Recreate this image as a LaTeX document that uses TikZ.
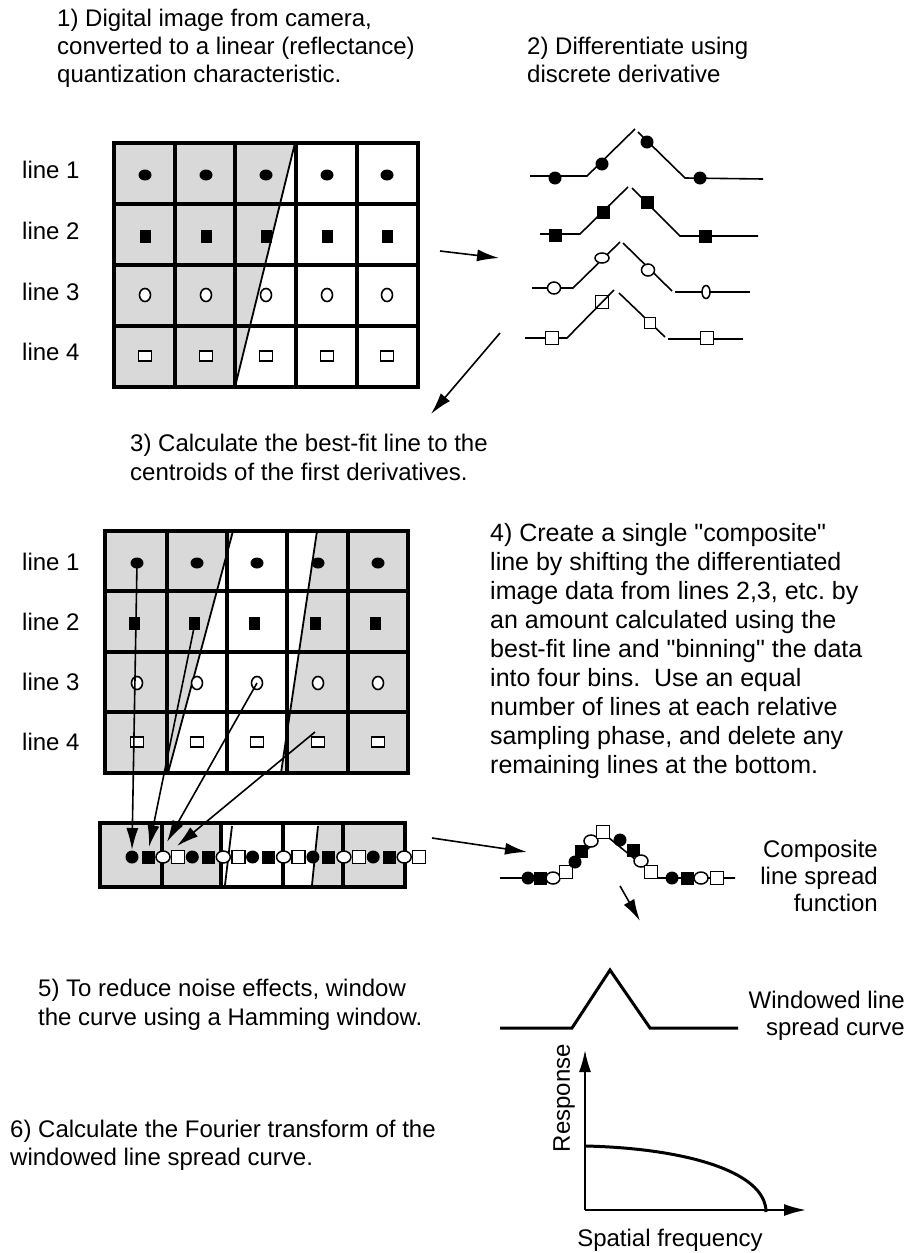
\documentclass[tikz,border=0pt]{standalone}
\usepackage{fontspec}
\setmainfont{Liberation Sans}
\usetikzlibrary{arrows.meta}
\frenchspacing
\begin{document}
\begin{tikzpicture}[x=1pt,y=-1pt,
  txt/.style={font=\fontsize{24}{28}\selectfont, align=left, inner sep=0, anchor=north west},
  rtxt/.style={font=\fontsize{24}{27}\selectfont, align=right, inner sep=0, anchor=north east},
  lab/.style={font=\fontsize{24}{28}\selectfont, inner sep=0, anchor=west},
  gridln/.style={line width=3.2pt},
  border/.style={line width=4pt},
  shadefill/.style={fill=black!15},
  edgeln/.style={line width=1.8pt},
  curve/.style={line width=1.6pt},
  thick curve/.style={line width=3pt, line join=miter},
  arr/.style={line width=1.6pt, -{Latex[length=22pt,width=12pt]}},
  fcir/.pic={\fill (0,0) ellipse (6.5 and 5.5);},
  fsq/.pic={\fill (-5.5,-6.5) rectangle (5.5,6.5);},
  ocir/.pic={\filldraw[fill=white,line width=1.6pt] (0,0) ellipse (5.5 and 6.5);},
  osq/.pic={\filldraw[fill=white,line width=1.6pt] (-6.5,-5) rectangle (6.5,5);},
  dfc/.pic={\fill (0,0) circle (6.5);},
  dfs/.pic={\fill (-6.5,-6.5) rectangle (6.5,6.5);},
  doc/.pic={\filldraw[fill=white,line width=1.5pt] (0,0) ellipse (6.5 and 6);},
  dos/.pic={\filldraw[fill=white,line width=1.5pt] (-6.5,-6.5) rectangle (6.5,6.5);},
  sfc/.pic={\fill (0,0) circle (6.5);},
  sfs/.pic={\fill (-6.5,-6.5) rectangle (6.5,6.5);},
  soc/.pic={\filldraw[fill=white,line width=1.5pt] (0,0) ellipse (7 and 6);},
  sos/.pic={\filldraw[fill=white,line width=1.5pt] (-6.5,-6.5) rectangle (6.5,6.5);},
]
\useasboundingbox (0,0) rectangle (910,1253);
\fill[white] (0,0) rectangle (910,1253);

% ---------- texts ----------
\node[txt] (t1) at (57,9) {1) Digital image from camera,\\converted to a linear (reflectance)\\quantization characteristic.};
\node[txt] (t2) at (527,37) {2) Differentiate using\\discrete derivative};
\node[txt,font=\fontsize{24}{29}\selectfont] (t3) at (130,434) {3) Calculate the best-fit line to the\\centroids of the first derivatives.};
\node[txt,font=\fontsize{25}{29}\selectfont] (t4) at (490,523) {4) Create a single \textquotedbl composite\textquotedbl\\line by shifting the differentiated\\image data from lines 2,3, etc. by\\an amount calculated using the\\best-fit line and \textquotedbl binning\textquotedbl\ the data\\into four bins.\ \ Use an equal\\number of lines at each relative\\sampling phase, and delete any\\remaining lines at the bottom.};
\node[rtxt] (tc) at (878,840) {Composite\\line spread\\function};
\node[txt,font=\fontsize{24}{29}\selectfont] (t5) at (38,979) {5) To reduce noise effects, window\\the curve using a Hamming window.};
\node[rtxt] (tw) at (905,991) {Windowed line\\spread curve};
\node[txt] (t6) at (10,1120) {6) Calculate the Fourier transform of the\\windowed line spread curve.};

% ---------- grid 1 ----------
\fill[shadefill] (114,143) -- (295,143) -- (235,387) -- (114,387) -- cycle;
\foreach \x in {175,235,296,357} \draw[gridln] (\x,143) -- (\x,387);
\foreach \y in {204,265,326} \draw[gridln] (114,\y) -- (418,\y);
\draw[border] (114,143) rectangle (418,387);
\draw[edgeln] (295,143) -- (235,387);
\foreach \x in {145,206,266,327,387} {
  \pic at (\x,175) {fcir};
  \pic at (\x,236) {fsq};
  \pic at (\x,295) {ocir};
  \pic at (\x,356) {osq};
}
\foreach \n/\y in {1/170,2/231,3/292,4/352} \node[lab] (la\n) at (22,\y) {line \n};

% ---------- arrow to derivatives ----------
\coordinate (a1s) at (440,251);
\coordinate (a1e) at (499,258);
\draw[arr] (a1s) -- (a1e);

% ---------- derivatives ----------
\draw[curve] (530,176) -- (587,176) -- (635,129);
\draw[curve] (638,132) -- (685,178) -- (763,179);
\foreach \x/\y in {555/178,602/164,647/142,700/178} \pic at (\x,\y) {dfc};
\draw[curve] (540,234) -- (580,234) -- (628,187);
\draw[curve] (632,188) -- (680,236) -- (758,236);
\foreach \x/\y in {555/235,603/212,647/202,705/236} \pic at (\x,\y) {dfs};
\draw[curve] (532,288) -- (573,288) -- (620,242);
\draw[curve] (623,243) -- (672,291);
\draw[curve] (675,292) -- (750,292);
\pic at (554,288) {doc};
\filldraw[fill=white,line width=1.5pt] (602,258) ellipse (7 and 5);
\pic at (648,270) {doc};
\filldraw[fill=white,line width=1.5pt] (706,292) ellipse (4 and 6.5);
\draw[curve] (525,338) -- (567,338) -- (614,290);
\draw[curve] (619,293) -- (665,337);
\draw[curve] (668,339) -- (743,339);
\pic at (552,338) {dos};
\draw[line width=1.5pt] (595.5,295.5) rectangle (608.5,308.5);
\filldraw[fill=white,line width=1.5pt] (644.5,317.5) rectangle (655.5,328.5);
\pic at (707,338) {dos};

% ---------- arrow to step 3 ----------
\coordinate (a2s) at (500,333);
\coordinate (a2e) at (431,414);
\draw[arr] (a2s) -- (a2e);

% ---------- grid 2 ----------
\fill[shadefill] (105,531) rectangle (408,773);
\fill[white] (233,531) -- (317,531) -- (281,773) -- (168,773) -- cycle;
\foreach \x in {167,227,287,348} \draw[gridln] (\x,531) -- (\x,773);
\foreach \y in {591,652,712} \draw[gridln] (105,\y) -- (408,\y);
\draw[border] (105,531) rectangle (408,773);
\draw[edgeln] (233,531) -- (168,773);
\draw[edgeln] (317,531) -- (281,773);
\foreach \x in {137,197,257,318,378} {
  \pic at (\x,563) {fcir};
  \pic at (\x-3,623) {fsq};
  \pic at (\x,683) {ocir};
  \pic at (\x,742) {osq};
}
\foreach \n/\y in {1/562,2/622,3/682,4/742} \node[lab] (lb\n) at (22,\y) {line \n};

% ---------- composite strip ----------
\fill[shadefill] (100,823) rectangle (221,887);
\fill[shadefill] (318,823) -- (405,823) -- (405,887) -- (312,887) -- cycle;
\foreach \x in {162,221,283,343} \draw[gridln] (\x,823) -- (\x,887);
\draw[border] (100,823) rectangle (405,887);
\draw[edgeln] (232,826) -- (225,885);
\draw[edgeln] (318,826) -- (312,885);
\foreach \k in {0,...,4} {
  \pic at (132+60.3*\k,857) {sfc};
  \pic at (148+60.3*\k,857) {sfs};
  \pic at (163+60.3*\k,857) {soc};
  \pic at (178+60.3*\k,857) {sos};
}

% ---------- binning arrows ----------
\coordinate (b1s) at (137,563);
\coordinate (b1e) at (132,850);
\coordinate (b2s) at (195,623);
\coordinate (b2e) at (149,847);
\coordinate (b3s) at (257,683);
\coordinate (b3e) at (167,842);
\coordinate (b4s) at (315,732);
\coordinate (b4e) at (177,846);
\foreach \i in {1,2,3,4} \draw[arr] (b\i s) -- (b\i e);

% ---------- arrow to composite ----------
\coordinate (a3s) at (432,838);
\coordinate (a3e) at (527,852);
\draw[arr] (a3s) -- (a3e);

% ---------- composite LSF ----------
\draw[curve] (500,878) -- (560,878) -- (603,833) -- (658,878) -- (735,878);
\foreach \x/\y/\s in {528/878/sfc,540/878/sfs,553/878/soc,566/872/sos,
   575/862/sfc,581/851/sfs,591/841/soc,603/832/sos,
   620/840/sfc,633/850/sfs,641/861/soc,651/872/sos,
   672/878/sfc,687/878/sfs,701/878/soc,717/878/sos} \pic at (\x,\y) {\s};

% ---------- arrow to windowed ----------
\coordinate (a4s) at (620,886);
\coordinate (a4e) at (640,921);
\draw[arr] (a4s) -- (a4e);

% ---------- windowed curve ----------
\draw[thick curve] (500,1028) -- (572,1028) -- (610,970) -- (650,1028) -- (738,1028);

% ---------- response plot ----------
\coordinate (org) at (585,1210);
\coordinate (ytip) at (585,1050);
\coordinate (xtip) at (806,1210);
\draw[line width=1.8pt, -{Latex[length=22pt,width=12pt]}] (org) -- (ytip);
\draw[line width=1.8pt, -{Latex[length=22pt,width=12pt]}] (org) -- (xtip);
\draw[line width=3pt] (585,1146) .. controls (680,1148) and (766,1170) .. (766,1212);
\node[font=\fontsize{24}{28}\selectfont, rotate=90, inner sep=0] (tr) at (564,1098) {Response};
\node[font=\fontsize{24}{28}\selectfont, inner sep=0] (tf) at (670,1240) {Spatial frequency};
\end{tikzpicture}
\end{document}
